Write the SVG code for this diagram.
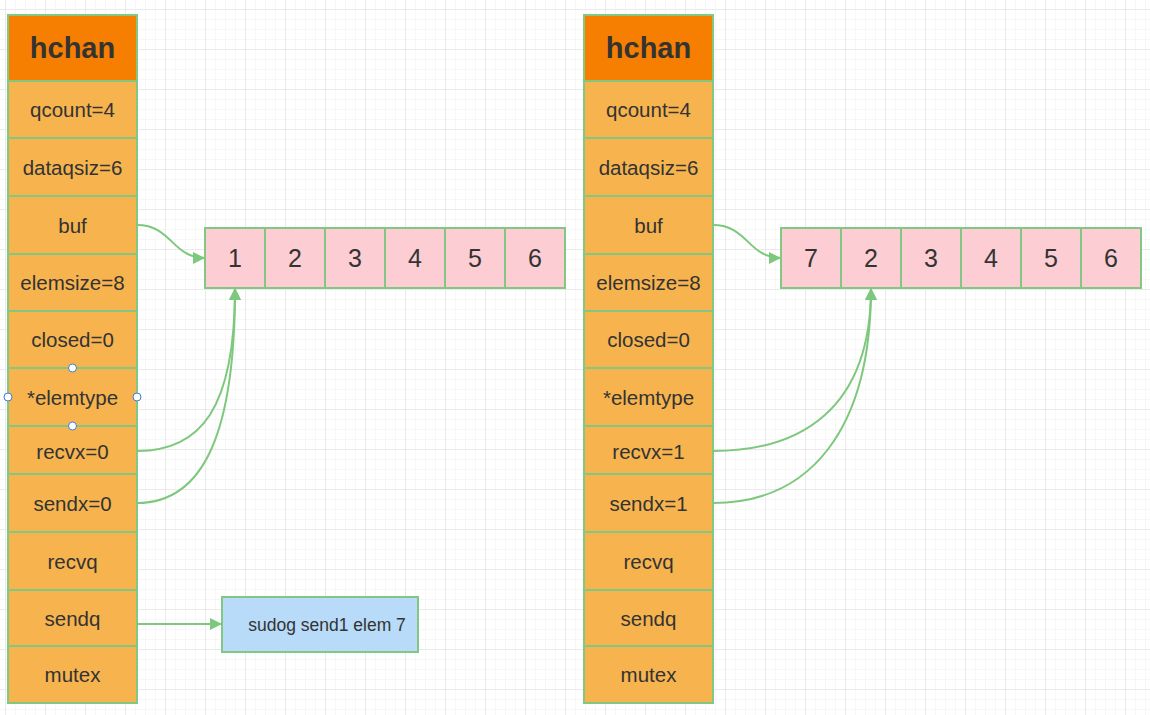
<svg xmlns="http://www.w3.org/2000/svg" width="1150" height="715" viewBox="0 0 1150 715">
<style>
.hdr{fill:#f67e00;stroke:#82c882;stroke-width:2}
.row{fill:#f7b44e;stroke:#82c882;stroke-width:2}
.cell{fill:#fccdd2;stroke:#82c882;stroke-width:2}
.sud{fill:#b7dbf8;stroke:#82c882;stroke-width:2}
text{font-family:"Liberation Sans","Noto Sans",Arial,sans-serif;fill:#333;text-anchor:middle;dominant-baseline:central}
.ht{font-size:29px;font-weight:bold}
.rt{font-size:20.5px}
.ct{font-size:25px}
.st{font-size:17.5px}
.con{fill:none;stroke:#7ec87e;stroke-width:2}
.hd{fill:#fff;stroke:#3b7ddd;stroke-width:1}
</style>
<defs>
<pattern id="minor" width="10" height="10" x="5" y="9" patternUnits="userSpaceOnUse">
<path d="M0 0H10M0 0V10" fill="none" stroke="#efefef" stroke-width="1"/>
</pattern>
<pattern id="major" width="40" height="40" x="5" y="9" patternUnits="userSpaceOnUse">
<path d="M0 0H40M0 0V40" fill="none" stroke="#dedede" stroke-width="1"/>
</pattern>
<marker id="arrb" viewBox="0 0 10 10" refX="10" refY="5" markerWidth="15" markerHeight="12" orient="auto" markerUnits="userSpaceOnUse">
<path d="M0 0L10 5L0 10Z" fill="#7ec87e"/>
</marker>
</defs>
<rect width="1150" height="715" fill="#fff"/>
<rect width="1150" height="715" fill="url(#minor)"/>
<rect width="1150" height="715" fill="url(#major)"/>

<g id="hchan-left">
<rect class="hdr" x="8" y="15" width="129" height="66"/>
<text class="ht" x="72.5" y="48">hchan</text>
<rect class="row" x="8" y="81" width="129" height="57"/><text class="rt" x="72.5" y="109.5">qcount=4</text>
<rect class="row" x="8" y="138" width="129" height="58"/><text class="rt" x="72.5" y="167">dataqsiz=6</text>
<rect class="row" x="8" y="196" width="129" height="58"/><text class="rt" x="72.5" y="225">buf</text>
<rect class="row" x="8" y="254" width="129" height="57"/><text class="rt" x="72.5" y="282.5">elemsize=8</text>
<rect class="row" x="8" y="311" width="129" height="57"/><text class="rt" x="72.5" y="339.5">closed=0</text>
<rect class="row" x="8" y="368" width="129" height="58"/><text class="rt" x="72.5" y="397">*elemtype</text>
<rect class="row" x="8" y="426" width="129" height="48"/><text class="rt" x="72.5" y="451">recvx=0</text>
<rect class="row" x="8" y="474" width="129" height="58"/><text class="rt" x="72.5" y="503">sendx=0</text>
<rect class="row" x="8" y="532" width="129" height="58"/><text class="rt" x="72.5" y="561">recvq</text>
<rect class="row" x="8" y="590" width="129" height="56"/><text class="rt" x="72.5" y="618">sendq</text>
<rect class="row" x="8" y="646" width="129" height="57"/><text class="rt" x="72.5" y="674.5">mutex</text>
</g>

<g id="buf-left">
<rect class="cell" x="205" y="228" width="60" height="60"/><text class="ct" x="235" y="258">1</text>
<rect class="cell" x="265" y="228" width="60" height="60"/><text class="ct" x="295" y="258">2</text>
<rect class="cell" x="325" y="228" width="60" height="60"/><text class="ct" x="355" y="258">3</text>
<rect class="cell" x="385" y="228" width="60" height="60"/><text class="ct" x="415" y="258">4</text>
<rect class="cell" x="445" y="228" width="60" height="60"/><text class="ct" x="475" y="258">5</text>
<rect class="cell" x="505" y="228" width="60" height="60"/><text class="ct" x="535" y="258">6</text>
</g>

<g id="sudog">
<rect class="sud" x="222" y="597" width="196" height="55"/>
<text class="st" x="327" y="625">sudog send1 elem 7</text>
</g>

<g id="hchan-right">
<rect class="hdr" x="584" y="15" width="129" height="66"/>
<text class="ht" x="648.5" y="48">hchan</text>
<rect class="row" x="584" y="81" width="129" height="57"/><text class="rt" x="648.5" y="109.5">qcount=4</text>
<rect class="row" x="584" y="138" width="129" height="58"/><text class="rt" x="648.5" y="167">dataqsiz=6</text>
<rect class="row" x="584" y="196" width="129" height="58"/><text class="rt" x="648.5" y="225">buf</text>
<rect class="row" x="584" y="254" width="129" height="57"/><text class="rt" x="648.5" y="282.5">elemsize=8</text>
<rect class="row" x="584" y="311" width="129" height="57"/><text class="rt" x="648.5" y="339.5">closed=0</text>
<rect class="row" x="584" y="368" width="129" height="58"/><text class="rt" x="648.5" y="397">*elemtype</text>
<rect class="row" x="584" y="426" width="129" height="48"/><text class="rt" x="648.5" y="451">recvx=1</text>
<rect class="row" x="584" y="474" width="129" height="58"/><text class="rt" x="648.5" y="503">sendx=1</text>
<rect class="row" x="584" y="532" width="129" height="58"/><text class="rt" x="648.5" y="561">recvq</text>
<rect class="row" x="584" y="590" width="129" height="56"/><text class="rt" x="648.5" y="618">sendq</text>
<rect class="row" x="584" y="646" width="129" height="57"/><text class="rt" x="648.5" y="674.5">mutex</text>
</g>

<g id="buf-right">
<rect class="cell" x="781" y="228" width="60" height="60"/><text class="ct" x="811" y="258">7</text>
<rect class="cell" x="841" y="228" width="60" height="60"/><text class="ct" x="871" y="258">2</text>
<rect class="cell" x="901" y="228" width="60" height="60"/><text class="ct" x="931" y="258">3</text>
<rect class="cell" x="961" y="228" width="60" height="60"/><text class="ct" x="991" y="258">4</text>
<rect class="cell" x="1021" y="228" width="60" height="60"/><text class="ct" x="1051" y="258">5</text>
<rect class="cell" x="1081" y="228" width="60" height="60"/><text class="ct" x="1111" y="258">6</text>
</g>

<g id="connectors">
<path class="con" marker-end="url(#arrb)" d="M137 225C172 225 172 258 205 258"/>
<path class="con" marker-end="url(#arrb)" d="M137 451C200 451 235 410 235 288"/>
<path class="con" marker-end="url(#arrb)" d="M137 503C205 503 235 430 235 288"/>
<path class="con" marker-end="url(#arrb)" d="M137 624H222"/>
<path class="con" marker-end="url(#arrb)" d="M713 225C748 225 748 258 781 258"/>
<path class="con" marker-end="url(#arrb)" d="M713 451C800 451 871 410 871 288"/>
<path class="con" marker-end="url(#arrb)" d="M713 503C810 503 871 430 871 288"/>
</g>

<g id="handles">
<circle class="hd" cx="72.5" cy="368" r="4"/>
<circle class="hd" cx="72.5" cy="426" r="4"/>
<circle class="hd" cx="8" cy="397" r="4"/>
<circle class="hd" cx="137" cy="397" r="4"/>
</g>
</svg>
